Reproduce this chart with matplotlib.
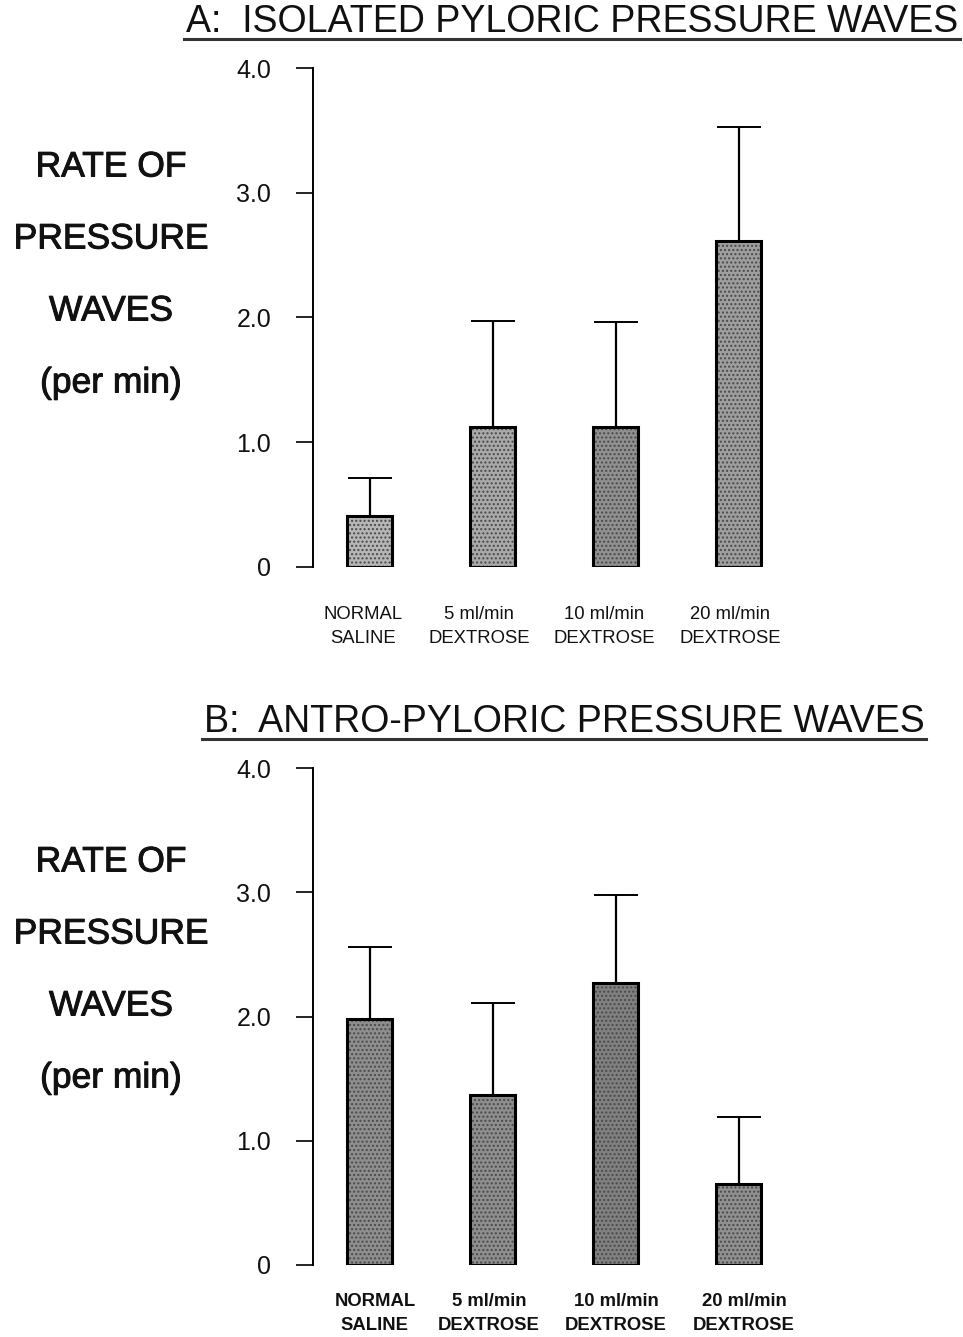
import matplotlib
matplotlib.use("Agg")
import matplotlib.pyplot as plt
import matplotlib.patheffects as pe
import matplotlib.transforms as mtransforms
from matplotlib.lines import Line2D
import numpy as np

# ---- data ----
categories = ["NORMAL\nSALINE", "5 ml/min\nDEXTROSE", "10 ml/min\nDEXTROSE", "20 ml/min\nDEXTROSE"]

isolated_mean = [0.41, 1.12, 1.12, 2.61]
isolated_sem = [0.30, 0.85, 0.84, 0.92]

antro_mean = [1.98, 1.37, 2.27, 0.65]
antro_sem = [0.58, 0.74, 0.71, 0.54]

yticks = [0, 1, 2, 3, 4]
ytick_labels = ["0", "1.0", "2.0", "3.0", "4.0"]

isolated_fill = ["#b6b6b6", "#a9a9a9", "#909090", "#9e9e9e"]
antro_fill = ["#8e8e8e", "#8e8e8e", "#808080", "#909090"]

plt.rcParams["font.family"] = ["Liberation Sans", "DejaVu Sans"]

fig = plt.figure(figsize=(9.63, 13.37), dpi=100)

W, H = 963.0, 1337.0
ax_left = 313 / W
ax_width = 487 / W
x = np.arange(len(categories))
bar_w = 0.366
thick = [pe.withStroke(linewidth=0.7, foreground="#111111")]


def draw_panel(ax, means, sems, fills, label_pad, label_weight, label_shift):
    # stipple fill first, then the black outline on top
    ax.bar(x, means, width=bar_w, color=fills, hatch="....", edgecolor="#4a4a4a",
           linewidth=0, zorder=2)
    ax.bar(x, means, width=bar_w, fill=False, edgecolor="black", linewidth=2.2, zorder=3)
    ax.errorbar(x, means, yerr=[np.zeros(len(means)), sems], fmt="none",
                ecolor="black", elinewidth=1.6, capsize=16, capthick=1.4, zorder=1)

    ax.set_xlim(-0.463, 3.496)
    ax.set_ylim(0, 4)
    for s in ["top", "right", "bottom"]:
        ax.spines[s].set_visible(False)
    ax.spines["left"].set_linewidth(1.4)

    ax.set_yticks(yticks)
    ax.set_yticklabels(ytick_labels, fontsize=18, color="#111111")
    ax.tick_params(axis="y", direction="out", length=12, width=1.2, pad=18)

    ax.set_xticks(x)
    ax.set_xticklabels(categories, fontsize=13.3, linespacing=1.55,
                       fontweight=label_weight, color="#111111")
    ax.tick_params(axis="x", length=0, pad=label_pad)
    for lbl, dx in zip(ax.get_xticklabels(), label_shift):
        lbl.set_transform(lbl.get_transform() +
                          mtransforms.ScaledTranslation(dx / 100.0, 0, fig.dpi_scale_trans))


def add_title(text, xc, yc, size):
    t = fig.text(xc / W, 1 - yc / H, text, fontsize=size, ha="center", va="center",
                 color="#111111")
    fig.canvas.draw()
    bb = t.get_window_extent()
    y_line = bb.y0 + 1
    fig.add_artist(Line2D([(bb.x0 - 2) / W, (bb.x1 + 2) / W], [y_line / H, y_line / H],
                          color="#333333", linewidth=2.2, transform=fig.transFigure))


def add_ylabel(yc):
    fig.text(111 / W, 1 - yc / H, "RATE OF\nPRESSURE\nWAVES\n(per min)",
             fontsize=25.5, ha="center", va="center", linespacing=2.5,
             color="#111111", path_effects=thick)


# ---- panel A ----
axA = fig.add_axes([ax_left, 1 - 567 / H, ax_width, (567 - 68) / H])
draw_panel(axA, isolated_mean, isolated_sem, isolated_fill, 28, "normal",
           [-7, -14, -12, -9])
add_ylabel(275)
add_title("A:  ISOLATED PYLORIC PRESSURE WAVES", 572, 22, 27)

# ---- panel B ----
axB = fig.add_axes([ax_left, 1 - 1265 / H, ax_width, (1265 - 768) / H])
draw_panel(axB, antro_mean, antro_sem, antro_fill, 20, "bold",
           [5, -4, 0, 5])
add_ylabel(970)
add_title("B:  ANTRO-PYLORIC PRESSURE WAVES", 564, 722, 27)

fig.savefig("out.png", dpi=100)
